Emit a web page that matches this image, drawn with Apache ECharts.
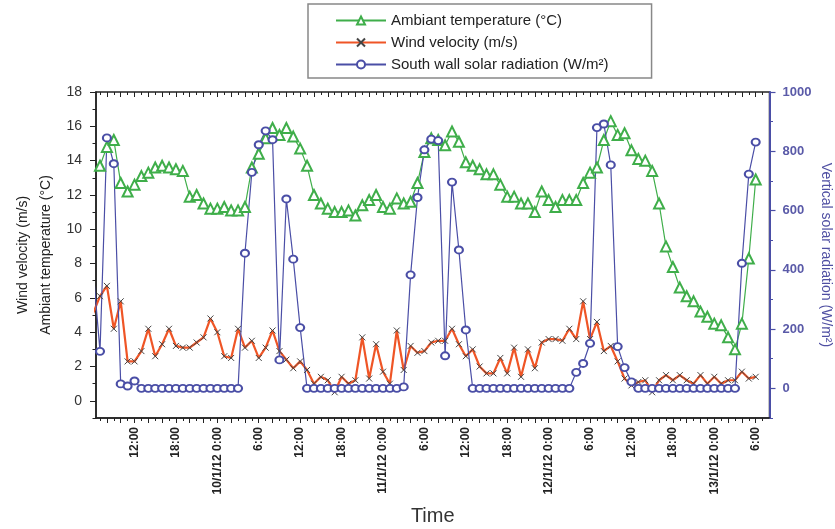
<!DOCTYPE html>
<html>
<head>
<meta charset="utf-8">
<title>Temperature, wind and solar radiation</title>
<script src="https://cdn.jsdelivr.net/npm/echarts@6/dist/echarts.min.js"></script>
<style>
  html, body { margin: 0; padding: 0; background: #fff; }
  #main { width: 835px; height: 529px; }
</style>
</head>
<body>
<div id="main"></div>
<script>
// time in hours, counted from 10/1/12 0:00, one reading per hour
var startHour = -18;

// ambient temperature (°C), null where no reading
var temperature = [
  null, 13.7, 14.8, 15.2, 12.7, 12.2, 12.6, 13.1, 13.3, 13.6, 13.7, 13.6, 13.5, 13.4, 11.9, 12.0, 11.5, 11.2,
  11.2, 11.3, 11.1, 11.1, 11.3, 13.6, 14.4, 15.3, 15.9, 15.5, 15.9, 15.4, 14.7, 13.7, 12.0, 11.5, 11.2, 11.0,
  11.0, 11.1, 10.8, 11.4, 11.7, 12.0,
  11.3, 11.2, 11.8, 11.5, 11.6, 12.7, 14.5, 15.3, 15.2, 14.9, 15.7, 15.1, 13.9, 13.7, 13.5, 13.2, 13.2, 12.6,
  11.9, 11.9, 11.5, 11.5, 11.0, 12.2,
  11.7, 11.3, 11.7, 11.7, 11.7, 12.7, 13.3, 13.6, 15.2, 16.3, 15.5, 15.6, 14.6, 14.1, 14.0, 13.4, 11.5, 9.0,
  7.8, 6.6, 6.1, 5.8, 5.2, 4.9,
  4.5, 4.4, 3.7, 3.0, 4.5, 8.3, 12.9
];

// wind velocity (m/s)
var wind = [
  5.1, 6.1, 6.7, 4.2, 5.8, 2.3, 2.3, 2.9, 4.2, 2.6, 3.3, 4.2, 3.2, 3.1, 3.1, 3.4, 3.7, 4.8,
  4.0, 2.6, 2.5, 4.2, 3.1, 3.5, 2.5, 3.1, 4.1, 2.9, 2.4, 1.9, 2.3, 1.8, 1.0, 1.4, 1.2, 0.5,
  1.4, 1.0, 1.2, 3.7, 1.3, 3.3,
  1.7, 1.0, 4.1, 1.8, 3.2, 2.8, 2.9, 3.4, 3.5, 3.5, 4.2, 3.3, 2.6, 3.0, 2.0, 1.6, 1.6, 2.5,
  1.6, 3.1, 1.4, 3.0, 1.9, 3.4,
  3.6, 3.6, 3.5, 4.2, 3.6, 5.8, 3.6, 4.6, 2.9, 3.2, 2.3, 1.3, 0.9, 1.1, 1.2, 0.5, 1.2, 1.5,
  1.2, 1.5, 1.2, 1.0, 1.5, 1.0,
  1.4, 1.0, 1.2, 1.2, 1.7, 1.3, 1.4
];

// south wall solar radiation (W/m²)
var solar = [
  400, 125, 845, 758, 15, 8, 25, 0, 0, 0, 0, 0, 0, 0, 0, 0, 0, 0,
  0, 0, 0, 0, 456, 729, 822, 869, 839, 96, 639, 436, 205, 0, 0, 0, 0, 0,
  0, 0, 0, 0, 0, 0,
  0, 0, 0, 5, 383, 644, 805, 841, 836, 110, 696, 467, 197, 0, 0, 0, 0, 0,
  0, 0, 0, 0, 0, 0,
  0, 0, 0, 0, 54, 84, 152, 880, 892, 754, 141, 70, 22, 0, 0, 0, 0, 0,
  0, 0, 0, 0, 0, 0,
  0, 0, 0, 0, 422, 723, 831
];

// labelled ticks on the time axis
var tickHours = [-12, -6, 0, 6, 12, 18, 24, 30, 36, 42, 48, 54, 60, 66, 72, 78];
var tickLabels = ['12:00', '18:00', '10/1/12 0:00', '6:00', '12:00', '18:00', '11/1/12 0:00', '6:00',
  '12:00', '18:00', '12/1/12 0:00', '6:00', '12:00', '18:00', '13/1/12 0:00', '6:00'];

var leftTicks = [0, 2, 4, 6, 8, 10, 12, 14, 16, 18];
var leftMinorTicks = [-1, 1, 3, 5, 7, 9, 11, 13, 15, 17];
var rightTicks = [0, 200, 400, 600, 800, 1000];
var rightMinorTicks = [-100, 100, 300, 500, 700, 900];

var green = '#3fae4a';
var red = '#ef5526';
var blue = '#4a4ea6';
var xMin = -17.58, xMax = 80;

function pairs(arr) {
  var out = [];
  for (var i = 0; i < arr.length; i++) {
    out.push([startHour + i, arr[i]]);
  }
  return out;
}

// hourly tick marks, long on even hours, short on odd ones
var evenHours = [], oddHours = [];
for (var h = -17; h <= 79; h++) {
  if (h % 2 === 0) evenHours.push(h); else oddHours.push(h);
}

function tickAxis(position, values, length, inside) {
  return {
    type: 'value', position: position, min: xMin, max: xMax,
    axisLine: { show: false, onZero: false },
    axisTick: { show: true, inside: inside, customValues: values, length: length,
      lineStyle: { color: '#222', width: 1 } },
    axisLabel: { show: false },
    splitLine: { show: false }
  };
}

function yTickAxis(position, min, max, values, color) {
  return {
    type: 'value', position: position, min: min, max: max,
    axisLine: { show: false, onZero: false },
    axisTick: { show: true, customValues: values, length: 3.5, lineStyle: { color: color, width: 1 } },
    axisLabel: { show: false },
    splitLine: { show: false }
  };
}

var myChart = echarts.init(document.getElementById('main'));

var option = {
  backgroundColor: '#fff',
  animation: false,
  textStyle: { fontFamily: 'Arial, "Liberation Sans", sans-serif' },
  grid: {
    left: 96, right: 65.5, top: 92, bottom: 111,
    show: true, borderColor: '#222', borderWidth: 1.5,
    outerBoundsMode: 'none'
  },
  legend: {
    orient: 'vertical',
    left: 308, top: 4,
    itemWidth: 50, itemHeight: 10, itemGap: 7,
    padding: [9, 43, 6, 27],
    borderColor: '#888', borderWidth: 1.5,
    textStyle: { fontSize: 15, color: '#222' }
  },
  xAxis: [
    {
      type: 'value', position: 'bottom', min: xMin, max: xMax,
      axisLine: { show: true, onZero: false, lineStyle: { color: '#222', width: 1.5 } },
      axisTick: { show: true, customValues: evenHours, length: 5, lineStyle: { color: '#222', width: 1 } },
      axisLabel: {
        customValues: tickHours, rotate: 90, margin: 9,
        fontSize: 12, fontWeight: 'bold', color: '#222',
        formatter: function (v) {
          var i = tickHours.indexOf(Math.round(v));
          return i < 0 ? '' : tickLabels[i];
        }
      },
      splitLine: { show: false },
      name: 'Time', nameLocation: 'middle', nameGap: 88, nameMoveOverlap: false,
      nameTextStyle: { fontSize: 20, color: '#333' }
    },
    tickAxis('bottom', oddHours, 3, false),
    tickAxis('top', evenHours, 5, true),
    tickAxis('top', oddHours, 3, true)
  ],
  yAxis: [
    {
      type: 'value', position: 'left', min: -1, max: 18,
      axisLine: { show: true, onZero: false, lineStyle: { color: '#222', width: 1.5 } },
      axisTick: { show: true, customValues: leftTicks, length: 6, lineStyle: { color: '#222', width: 1 } },
      axisLabel: { customValues: leftTicks, margin: 14, fontSize: 14, color: '#333' },
      splitLine: { show: false },
      name: 'Wind velocity (m/s)\nAmbiant temperature (°C)',
      nameLocation: 'middle', nameRotate: 90, nameGap: 38, nameMoveOverlap: false,
      nameTextStyle: { fontSize: 14, lineHeight: 23, color: '#222' }
    },
    {
      type: 'value', position: 'right', min: -100, max: 1000,
      axisLine: { show: true, onZero: false, lineStyle: { color: blue, width: 2 } },
      axisTick: { show: true, customValues: rightTicks, length: 6, lineStyle: { color: blue, width: 1.2 } },
      axisLabel: {
        customValues: rightTicks, margin: 13, fontSize: 13, fontWeight: 'bold', color: '#5a5aa8',
        formatter: function (v) { return String(v); }
      },
      splitLine: { show: false },
      name: 'Vertical solar radiation (W/m²)',
      nameLocation: 'middle', nameRotate: -90, nameGap: 49, nameMoveOverlap: false,
      nameTextStyle: { fontSize: 14, color: '#4f4fa2' }
    },
    yTickAxis('left', -1, 18, leftMinorTicks, '#222'),
    yTickAxis('right', -100, 1000, rightMinorTicks, blue)
  ],
  series: [
    {
      name: 'Ambiant temperature (°C)',
      type: 'line', xAxisIndex: 0, yAxisIndex: 0,
      data: pairs(temperature),
      symbol: 'emptyTriangle', symbolSize: 10,
      lineStyle: { color: green, width: 1.2 },
      itemStyle: { color: green, borderColor: green, borderWidth: 1 }
    },
    {
      name: 'Wind velocity (m/s)',
      type: 'line', xAxisIndex: 0, yAxisIndex: 0,
      data: pairs(wind),
      symbol: 'path://M0,0L10,10M10,0L0,10', symbolSize: 6,
      lineStyle: { color: red, width: 2.2 },
      itemStyle: { color: '#444', borderColor: '#444', borderWidth: 1 }
    },
    {
      name: 'South wall solar radiation (W/m²)',
      type: 'line', xAxisIndex: 0, yAxisIndex: 1,
      data: pairs(solar),
      symbol: 'emptyCircle', symbolSize: [8, 7],
      lineStyle: { color: blue, width: 1.2 },
      itemStyle: { color: blue, borderColor: blue, borderWidth: 1 }
    }
  ]
};

myChart.setOption(option);
</script>
</body>
</html>
